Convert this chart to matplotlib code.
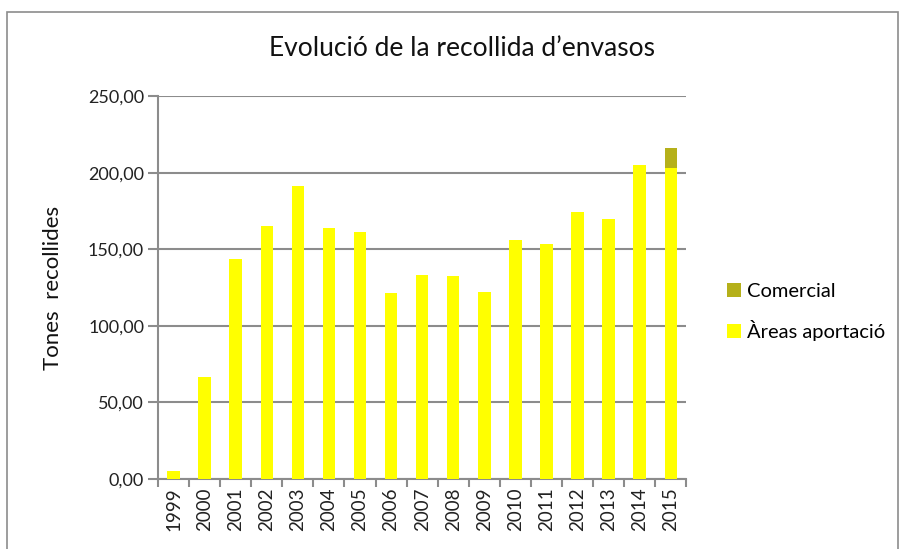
import matplotlib.pyplot as plt
import numpy as np
from matplotlib.patches import Rectangle

years = ["1999", "2000", "2001", "2002", "2003", "2004", "2005", "2006", "2007",
         "2008", "2009", "2010", "2011", "2012", "2013", "2014", "2015"]
areas_aportacio = [5.4, 66.6, 143.6, 165.4, 191.3, 163.8, 161.2, 121.2, 133.2,
                   132.5, 122.3, 156.0, 153.4, 174.3, 169.5, 205.0, 203.2]
comercial = [0, 0, 0, 0, 0, 0, 0, 0, 0, 0, 0, 0, 0, 0, 0, 0, 12.9]

plt.rcParams['font.family'] = ['Lato', 'DejaVu Sans']

fig = plt.figure(figsize=(9.03, 5.49), dpi=100)
ax = fig.add_axes([0.175, 0.1275, 0.585, 0.6975])

# outer chart frame
fig.patches.append(Rectangle((7 / 903, -0.1), 891 / 903, 1.1 - 12 / 549,
                             transform=fig.transFigure, fill=False,
                             edgecolor="#8c8c8c", linewidth=1.2))

x = np.arange(len(years))
ax.bar(x, areas_aportacio, width=0.4, color="#FFFF00", label="Àreas aportació", zorder=3)
ax.bar(x, comercial, width=0.4, bottom=areas_aportacio, color="#B5B01A",
       label="Comercial", zorder=3)

ax.set_xlim(-0.5, len(years) - 0.5)
ax.set_ylim(0, 250)
ax.set_yticks(np.arange(0, 251, 50))
ax.set_yticklabels([f"{v:.2f}".replace(".", ",") for v in np.arange(0, 251, 50)])
ax.yaxis.grid(True, color="#8c8c8c", linewidth=1.5, zorder=0)

ax.set_xticks(x)
ax.set_xticklabels(years, rotation=90)
ax.set_xticks(np.arange(-0.5, len(years), 1), minor=True)
ax.tick_params(axis="x", which="major", length=0, pad=6, labelsize=13.5,
               labelcolor="#222222")
ax.tick_params(axis="x", which="minor", length=6, color="#8c8c8c", width=1.5)
ax.tick_params(axis="y", length=7, color="#8c8c8c", width=1.5, labelsize=13, pad=3,
               labelcolor="#222222")

for side in ["top", "right"]:
    ax.spines[side].set_visible(False)
for side in ["left", "bottom"]:
    ax.spines[side].set_color("#8c8c8c")
    ax.spines[side].set_linewidth(1.5)

ax.set_ylabel("Tones  recollides", fontsize=16, labelpad=18, color="#111111")
fig.text(0.512, 0.912, "Evolució de la recollida d’envasos", fontsize=19,
         ha="center", va="center", color="#111111")

handles, labels = ax.get_legend_handles_labels()
fig.legend(handles[::-1], labels[::-1], loc="center left",
           bbox_to_anchor=(0.785, 0.432), frameon=False, fontsize=14.5,
           handlelength=0.7, handleheight=0.7, handletextpad=0.3,
           labelspacing=1.0)

fig.savefig("out.png", dpi=100)
